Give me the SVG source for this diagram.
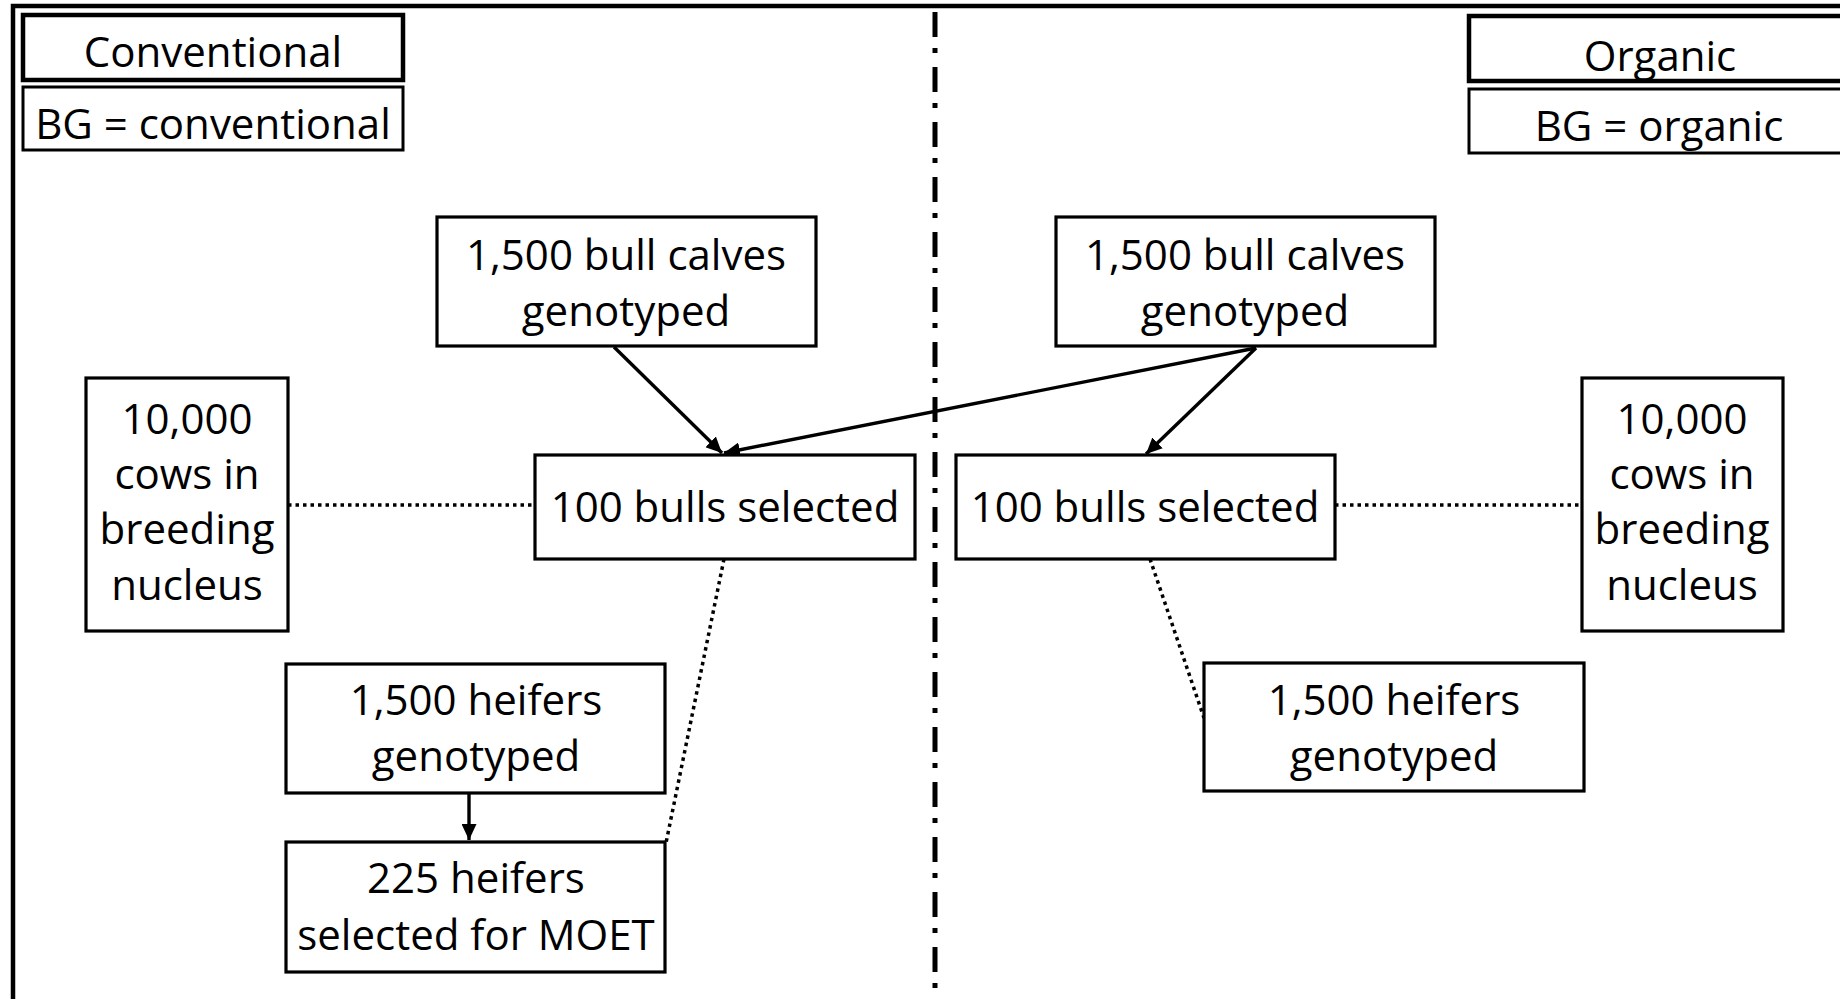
<svg xmlns="http://www.w3.org/2000/svg" width="1840" height="999" viewBox="0 0 1840 999">
<defs>
<marker id="ah" markerUnits="userSpaceOnUse" markerWidth="17" markerHeight="15" refX="16" refY="7.5" orient="auto">
<path d="M0,0 L16,7.5 L0,15 Z" fill="#000"/>
</marker>
<style>
.box{fill:#fff;stroke:#000;stroke-width:3.2}
.hbox{fill:#fff;stroke:#000;stroke-width:4.5}
.sbox{fill:#fff;stroke:#000;stroke-width:3}
text{font-family:"Open Sans","Liberation Sans",sans-serif;font-size:42px;fill:#000;text-anchor:middle}
.arrow{stroke:#000;stroke-width:3.4;fill:none;marker-end:url(#ah)}
.dot{stroke:#000;stroke-width:3.5;fill:none;stroke-dasharray:3.5 4}
</style>
</defs>
<rect width="1840" height="999" fill="#fff"/>
<path d="M13,1010 V6 H1850" fill="none" stroke="#000" stroke-width="4.5"/>
<line x1="935" y1="12" x2="935" y2="999" stroke="#000" stroke-width="5" stroke-dasharray="25 11 5 14"/>

<g id="connectors">
<path class="arrow" d="M614,347 L722,453"/>
<path class="arrow" d="M1256,348 L724,453"/>
<path class="arrow" d="M1256,348 L1146,454"/>
<path class="arrow" d="M469,793 L469,840"/>
<path class="dot" d="M288,505 H535"/>
<path class="dot" d="M1335,505 H1582"/>
<path class="dot" d="M724,559 L666,843"/>
<path class="dot" d="M1150,559 L1204,718"/>
</g>

<g id="conv-title"><rect class="hbox" x="23" y="15" width="380" height="65"/><text x="213" y="67">Conventional</text></g>
<g id="conv-bg"><rect class="sbox" x="23" y="87" width="380" height="63"/><text x="213" y="139">BG = conventional</text></g>
<g id="org-title"><rect class="hbox" x="1469" y="16" width="381" height="65"/><text x="1660" y="71">Organic</text></g>
<g id="org-bg"><rect class="sbox" x="1469" y="89" width="381" height="64"/><text x="1659" y="141">BG = organic</text></g>

<g id="conv-calves"><rect class="box" x="437" y="217" width="379" height="129"/><text x="626" y="270">1,500 bull calves</text><text x="626" y="326">genotyped</text></g>
<g id="org-calves"><rect class="box" x="1056" y="217" width="379" height="129"/><text x="1245" y="270">1,500 bull calves</text><text x="1245" y="326">genotyped</text></g>

<g id="conv-bulls"><rect class="box" x="535" y="455" width="380" height="104"/><text x="725" y="522">100 bulls selected</text></g>
<g id="org-bulls"><rect class="box" x="956" y="455" width="379" height="104"/><text x="1145" y="522">100 bulls selected</text></g>

<g id="conv-cows"><rect class="box" x="86" y="378" width="202" height="253"/><text x="187" y="434">10,000</text><text x="187" y="489">cows in</text><text x="187" y="544">breeding</text><text x="187" y="600">nucleus</text></g>
<g id="org-cows"><rect class="box" x="1582" y="378" width="201" height="253"/><text x="1682" y="434">10,000</text><text x="1682" y="489">cows in</text><text x="1682" y="544">breeding</text><text x="1682" y="600">nucleus</text></g>

<g id="conv-heifers"><rect class="box" x="286" y="664" width="379" height="129"/><text x="476" y="715">1,500 heifers</text><text x="476" y="771">genotyped</text></g>
<g id="conv-moet"><rect class="box" x="286" y="842" width="379" height="130"/><text x="476" y="893">225 heifers</text><text x="476" y="950">selected for MOET</text></g>
<g id="org-heifers"><rect class="box" x="1204" y="663" width="380" height="128"/><text x="1394" y="715">1,500 heifers</text><text x="1394" y="771">genotyped</text></g>
</svg>
